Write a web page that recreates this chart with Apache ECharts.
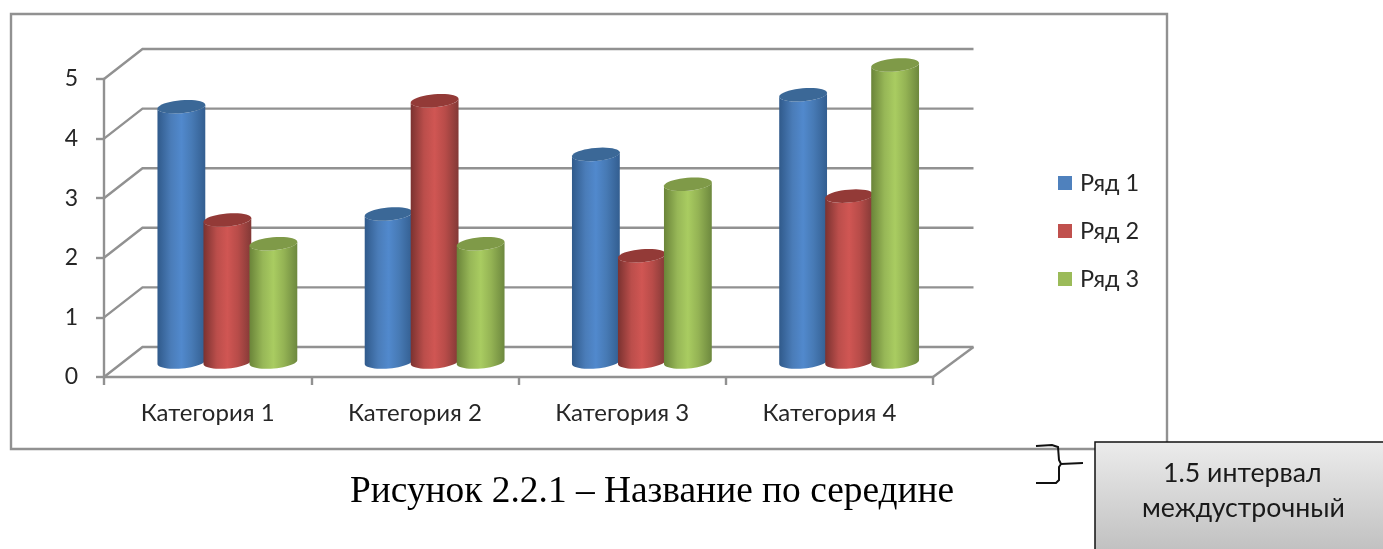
<!DOCTYPE html>
<html>
<head>
<meta charset="utf-8">
<style>
  html, body { margin: 0; padding: 0; background: #fff; }
  #chart { width: 1383px; height: 549px; }
</style>
<script src="https://cdn.jsdelivr.net/npm/echarts@6/dist/echarts.min.js"></script>
</head>
<body>
<div id="chart"></div>
<script>
const categories = ['Категория 1', 'Категория 2', 'Категория 3', 'Категория 4'];
const yTicks = [0, 1, 2, 3, 4, 5];
const row1 = [4.3, 2.5, 3.5, 4.5];
const row2 = [2.4, 4.4, 1.8, 2.8];
const row3 = [2, 2, 3, 5];

const uiFont = 'Lato, "Open Sans", "Noto Sans", sans-serif';
const axisGray = '#919191';
const axisWidth = 2.4;

// псевдо-3D: сдвиг задней стенки и размеры цилиндра
const depthX = 38.5;
const depthY = 30;
const barStep = 46;
const rx = 24;
const ry = 6.5;
const tilt = -5 * Math.PI / 180;

const palette = [
  { legend: '#4f81bd', top: '#3b6897', stops: ['#305a8b', '#4a7cb8', '#5189cd', '#477ab5', '#335e90'] },
  { legend: '#c0504d', top: '#933a37', stops: ['#7b3230', '#bb4e4b', '#d05653', '#b84c49', '#823936'] },
  { legend: '#9bbb59', top: '#7f9a48', stops: ['#6a8439', '#97b757', '#a9cc61', '#94b354', '#6d883e'] }
];

function ellipsePts(cx, cy, from, to, n) {
  const pts = [];
  for (let i = 0; i <= n; i++) {
    const a = from + (to - from) * i / n;
    const ex = rx * Math.cos(a);
    const ey = ry * Math.sin(a);
    pts.push([cx + ex * Math.cos(tilt) - ey * Math.sin(tilt), cy + ex * Math.sin(tilt) + ey * Math.cos(tilt)]);
  }
  return pts;
}

function renderCylinder(seriesIdx) {
  const look = palette[seriesIdx];
  return function (params, api) {
    const top = api.coord([api.value(0), api.value(1)]);
    const base = api.coord([api.value(0), 0]);
    const cx = top[0] + depthX / 2 + 0.5 + (seriesIdx - 1) * barStep;
    const topY = top[1] - depthY / 2 + 1;
    const baseY = base[1] - depthY / 2;
    const bottomArc = ellipsePts(cx, baseY, Math.PI, 0, 24);
    const topArc = ellipsePts(cx, topY, 0, Math.PI, 12);
    const s = look.stops;
    return {
      type: 'group',
      children: [
        {
          type: 'polygon',
          shape: { points: bottomArc.concat(topArc) },
          style: {
            fill: new echarts.graphic.LinearGradient(0, 0, 1, 0, [
              { offset: 0, color: s[0] },
              { offset: 0.28, color: s[1] },
              { offset: 0.5, color: s[2] },
              { offset: 0.72, color: s[3] },
              { offset: 1, color: s[4] }
            ])
          }
        },
        {
          type: 'polygon',
          shape: { points: ellipsePts(cx, topY, 0, Math.PI * 2, 40) },
          style: { fill: look.top }
        }
      ]
    };
  };
}

// горизонтальные линии задней стенки и диагонали
function renderWall(params, api) {
  const sys = params.coordSys;
  const y = api.coord([0, api.value(1)])[1];
  const style = { stroke: axisGray, lineWidth: axisWidth, fill: 'none' };
  const children = [
    { type: 'polyline', shape: { points: [[sys.x, y], [sys.x + depthX, y - depthY], [sys.x + sys.width + depthX + 2, y - depthY]] }, style: style }
  ];
  if (api.value(1) === 0) {
    children.push({
      type: 'line',
      shape: { x1: sys.x + sys.width, y1: y, x2: sys.x + sys.width + depthX + 2, y2: y - depthY },
      style: style
    });
  }
  return { type: 'group', children: children };
}

function cylinderSeries(name, values, idx) {
  return {
    name: name,
    type: 'custom',
    renderItem: renderCylinder(idx),
    itemStyle: { color: palette[idx].legend },
    data: values.map((v, i) => [i, v]),
    encode: { x: 0, y: 1 },
    z: 5 + idx,
    silent: true
  };
}

const chart = echarts.init(document.getElementById('chart'));
chart.setOption({
  animation: false,
  backgroundColor: '#fff',
  textStyle: { fontFamily: uiFont },
  grid: { left: 104, top: 79, width: 829, height: 298 },
  legend: {
    orient: 'vertical',
    left: 1058,
    top: 171,
    padding: 0,
    icon: 'rect',
    itemWidth: 14,
    itemHeight: 14,
    itemGap: 24,
    selectedMode: false,
    data: ['Ряд 1', 'Ряд 2', 'Ряд 3'],
    textStyle: { fontFamily: uiFont, fontSize: 23.5, lineHeight: 24, color: '#262626', padding: [0, 0, 0, 3] }
  },
  xAxis: {
    type: 'category',
    data: categories,
    boundaryGap: true,
    axisLine: { lineStyle: { color: axisGray, width: axisWidth } },
    axisTick: { show: true, length: 8, alignWithLabel: false, lineStyle: { color: axisGray, width: axisWidth } },
    axisLabel: { fontFamily: uiFont, fontSize: 24, color: '#262626', margin: 24 }
  },
  yAxis: {
    type: 'value',
    min: 0,
    max: 5,
    interval: 1,
    splitLine: { show: false },
    axisLine: { show: true, lineStyle: { color: axisGray, width: axisWidth } },
    axisTick: { show: true, length: 8, lineStyle: { color: axisGray, width: axisWidth } },
    axisLabel: { fontFamily: uiFont, fontSize: 23, color: '#262626', margin: 26, padding: [4, 0, 0, 0] }
  },
  series: [
    {
      name: 'стенка',
      type: 'custom',
      renderItem: renderWall,
      data: yTicks.map(v => [0, v]),
      encode: { x: 0, y: 1 },
      z: 1,
      silent: true
    },
    cylinderSeries('Ряд 1', row1, 0),
    cylinderSeries('Ряд 2', row2, 1),
    cylinderSeries('Ряд 3', row3, 2)
  ],
  graphic: [
    // рамка диаграммы
    { type: 'rect', z: 0, shape: { x: 11, y: 14, width: 1156, height: 435 }, style: { fill: 'none', stroke: axisGray, lineWidth: axisWidth } },
    // подпись
    {
      type: 'text', left: 350, top: 474,
      style: { text: 'Рисунок 2.2.1 – Название по середине', font: '37.4px "Liberation Serif", serif', fill: '#000' }
    },
    // скобка
    {
      type: 'polyline', z: 10,
      shape: { points: [[1036, 446], [1052, 445], [1058, 447], [1059, 460], [1061, 464], [1083, 463]] },
      style: { fill: 'none', stroke: '#111', lineWidth: 2 }
    },
    {
      type: 'polyline', z: 10,
      shape: { points: [[1061, 464], [1059, 467], [1059, 480], [1056, 483], [1036, 483]] },
      style: { fill: 'none', stroke: '#111', lineWidth: 2 }
    },
    // плашка
    {
      type: 'rect', z: 10,
      shape: { x: 1095, y: 442, width: 300, height: 120 },
      style: {
        stroke: '#111',
        lineWidth: 1.5,
        fill: new echarts.graphic.LinearGradient(0, 0, 0, 1, [
          { offset: 0, color: '#ececec' },
          { offset: 1, color: '#bcbcbc' }
        ])
      }
    },
    {
      type: 'text', z: 11, left: 1163, top: 460,
      style: { text: '1.5 интервал', font: '26.7px ' + uiFont, fill: '#1a1a1a' }
    },
    {
      type: 'text', z: 11, left: 1142, top: 495,
      style: { text: 'междустрочный', font: '26.7px ' + uiFont, fill: '#1a1a1a' }
    }
  ]
});
</script>
</body>
</html>
